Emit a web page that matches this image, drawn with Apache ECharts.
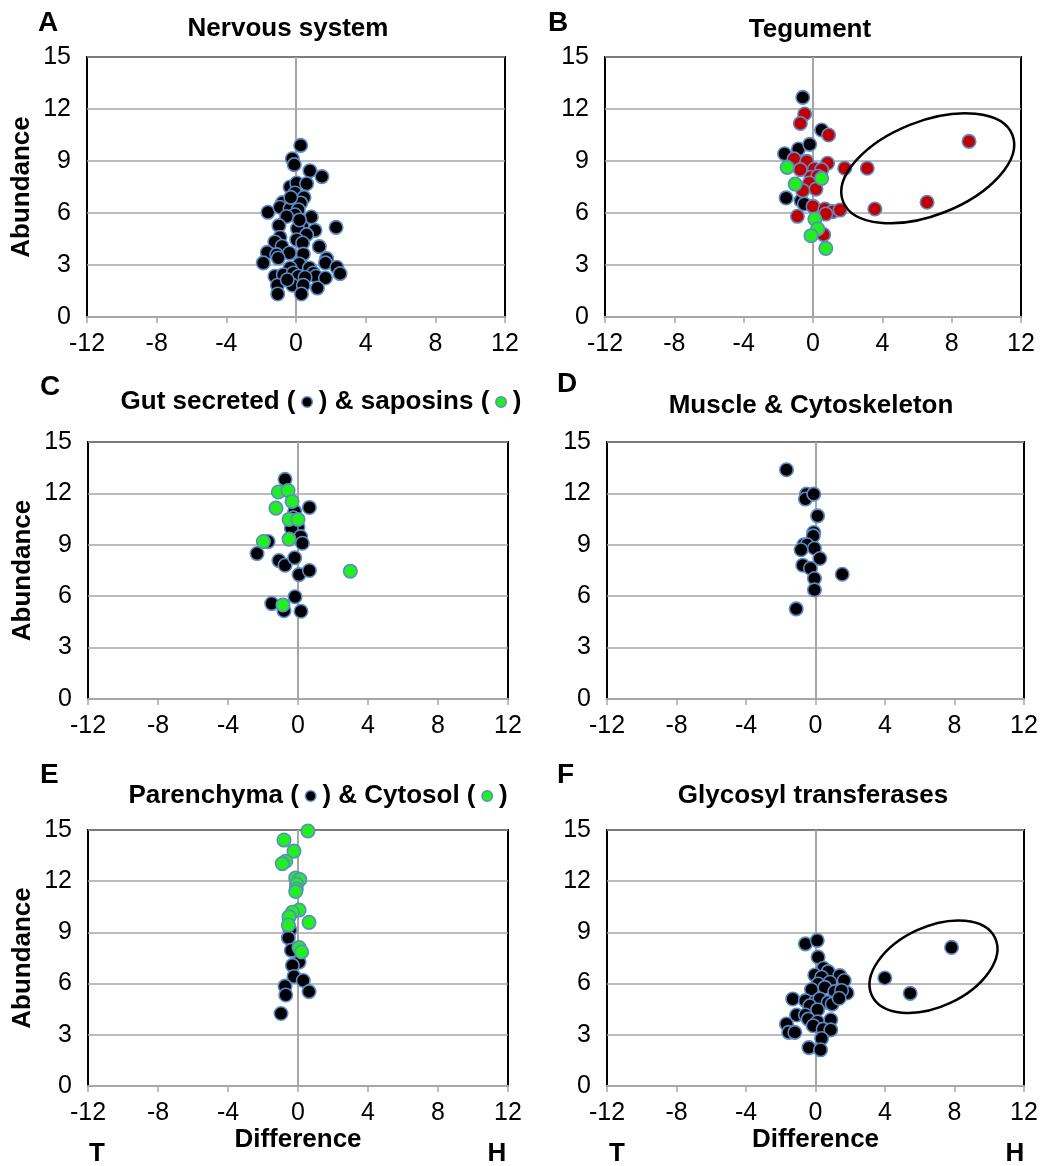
<!DOCTYPE html>
<html><head><meta charset="utf-8">
<script src="https://cdn.jsdelivr.net/npm/echarts@6/dist/echarts.min.js"></script>
<style>html,body{margin:0;padding:0;background:#fff}#c{width:1042px;height:1166px}</style>
</head><body><div id="c"></div>
<script>
// ---- data ----
const xTicks = [-12, -8, -4, 0, 4, 8, 12];
const yTicks = [0, 3, 6, 9, 12, 15];
const panelLetters = ['A', 'B', 'C', 'D', 'E', 'F'];
const panelTitles = ['Nervous system', 'Tegument', 'Gut secreted ( {b| } ) & saposins ( {g| } )',
  'Muscle & Cytoskeleton', 'Parenchyma ( {b| } ) & Cytosol ( {g| } )', 'Glycosyl transferases'];

const nervousSystem = [[0.27,9.9],[-0.21,9.13],[-0.1,8.79],[0.8,8.44],[1.49,8.1],[-0.34,7.5],[0.04,7.73],[0.61,7.69],
  [-0.06,7.15],[0.46,6.9],[-0.77,6.6],[-0.15,6.67],[0.27,6.58],[-1.61,6.04],[-0.92,6.33],[-0.34,6.25],[0.13,6.19],
  [-0.06,5.9],[-0.54,5.8],[0.88,5.77],[-0.98,5.27],[0.36,5.23],[1.09,5.0],[2.3,5.17],[0.08,5.1],[0.61,4.75],
  [-0.92,4.6],[-1.21,4.33],[0.04,4.46],[0.38,4.27],[-0.8,4.08],[1.34,4.06],[-1.65,3.73],[-1.11,3.6],[-0.38,3.69],
  [0.42,3.63],[-1.02,3.4],[-1.88,3.12],[0.19,3.06],[1.76,3.37],[1.69,3.12],[-0.34,2.83],[0.77,2.83],[2.34,2.87],
  [2.53,2.5],[-1.21,2.35],[-0.73,2.44],[-0.15,2.54],[0.13,2.35],[1.0,2.54],[1.15,2.35],[1.69,2.25],[0.52,2.29],
  [-1.07,1.83],[-0.19,1.83],[0.42,1.83],[1.23,1.67],[-1.05,1.33],[0.31,1.33],[-0.5,2.15],[-0.3,6.9],[0.2,5.6]];

const tegumentBlack = [[-0.59,12.67],[0.5,10.79],[-1.64,9.42],[-0.84,9.69],[-0.19,9.96],[-1.55,6.87],[-0.69,6.71],[-0.5,6.52]];
const tegumentRed = [[-0.48,11.71],[-0.73,11.17],[0.9,10.5],[-1.09,9.12],[-0.36,8.98],[0.84,8.87],[-0.73,8.5],[0.08,8.54],
  [0.5,8.5],[1.83,8.58],[3.13,8.58],[9.0,10.13],[-0.11,8.06],[0.27,8.12],[-0.21,7.73],[0.17,7.38],[-0.59,7.29],
  [0,6.38],[0.69,6.23],[1.13,6.08],[1.56,6.17],[0.74,5.94],[-0.9,5.81],[3.57,6.23],[6.58,6.62],[0.61,4.75]];
const tegumentGreen = [[-1.49,8.63],[0.5,8.0],[-1.03,7.67],[0.11,5.65],[0.27,5.08],[-0.11,4.69],[0.74,3.96]];

const gutSecreted = [[-0.74,12.82],[-0.19,10.95],[0.65,11.18],[-0.27,10.58],[0,10.03],[-0.38,9.97],[0.15,9.48],[0.25,9.09],
  [-1.71,9.19],[-2.34,8.49],[-1.09,8.08],[-0.74,7.81],[-0.19,8.24],[0.06,7.26],[0.65,7.5],[-0.17,5.97],[-1.5,5.57],
  [-0.8,5.15],[0.17,5.12]];
const saposins = [[-1.12,12.08],[-0.57,12.17],[-0.34,11.53],[-1.26,11.14],[-0.51,10.48],[0,10.48],[-1.98,9.19],
  [-0.51,9.33],[2.99,7.46],[-0.86,5.49]];

const muscleCytoskeleton = [[-1.67,13.38],[-0.52,11.96],[-0.58,11.67],[-0.1,11.96],[0.12,10.69],[-0.1,9.72],[-0.13,9.52],
  [-0.67,9.0],[-0.48,9.0],[-0.83,8.71],[-0.06,8.8],[0.25,8.2],[-0.73,7.81],[-0.29,7.63],[1.54,7.28],[-0.06,7.03],
  [-0.06,6.37],[-1.11,5.26]];

const parenchyma = [[-0.46,9.13],[-0.55,8.68],[-0.38,7.95],[0.06,7.26],[-0.32,7.07],[-0.23,6.42],[0.3,6.18],[-0.74,5.85],
  [0.63,5.53],[-0.7,5.33],[-0.97,4.25]];
const cytosol = [[0.57,14.94],[-0.8,14.41],[-0.23,13.76],[-0.7,13.17],[-0.9,13.03],[-0.13,12.19],[0.1,12.09],[-0.08,11.83],
  [-0.1,11.54],[-0.13,11.4],[0.06,10.31],[-0.32,10.18],[-0.51,9.92],[0.63,9.59],[-0.55,9.43],[0.06,8.11],[0.21,7.85]];

const glycosylTransferases = [[-0.58,8.33],[0.1,8.53],[0.15,7.55],[0.46,6.9],[0.73,6.7],[1.4,6.47],[-0.04,6.5],[0.35,6.37],
  [0.83,6.08],[1.65,6.18],[0.15,5.98],[-0.23,5.65],[0.54,5.78],[1.11,5.53],[1.82,5.45],[1.5,5.6],[-1.31,5.1],[-0.58,5.0],
  [0,4.94],[0.25,5.1],[0.73,4.9],[0.96,4.8],[1.36,5.14],[-0.33,4.7],[0.12,4.47],[-1.09,4.16],[-0.58,4.16],[-0.42,3.92],
  [0.12,3.76],[0.88,3.88],[-1.67,3.63],[-1.54,3.14],[-1.19,3.14],[-0.13,3.53],[0.44,3.33],[0.88,3.29],[0.35,2.78],
  [-0.38,2.25],[0.29,2.12],[3.99,6.33],[5.45,5.43],[7.83,8.12]];

// ellipse annotation centres (data coords)
const ellipseB = [6.62, 8.58];
const ellipseF = [6.79, 6.99];

// ---- styling ----
const FONT = 'Liberation Sans, Arial, sans-serif';
const BLUE_EDGE = '#5b8bc8';
const grids = [
  {left: 87, top: 57, width: 418, height: 260},
  {left: 605, top: 57, width: 416, height: 260},
  {left: 88, top: 442, width: 420, height: 257},
  {left: 607, top: 442, width: 417, height: 257},
  {left: 88, top: 830, width: 420, height: 256},
  {left: 607, top: 830, width: 417, height: 256}
];

const chart = echarts.init(document.getElementById('c'));

const xAxes = grids.map((g, i) => ({
  gridIndex: i, type: 'value', min: xTicks[0], max: xTicks[xTicks.length - 1], interval: 4,
  axisLine: {show: true, onZero: false, lineStyle: {color: '#a6a6a6', width: 2}},
  axisTick: {show: true, inside: false, length: 6, lineStyle: {color: '#a6a6a6', width: 1.5}},
  splitLine: {show: false},
  axisLabel: {color: '#000', fontFamily: FONT, fontSize: 25, margin: 15},
  name: i >= 4 ? 'Difference' : '', nameLocation: 'middle', nameGap: 39,
  nameTextStyle: {color: '#000', fontFamily: FONT, fontSize: 26, fontWeight: 'bold'}
}));
const yAxes = grids.map((g, i) => ({
  gridIndex: i, type: 'value', min: yTicks[0], max: yTicks[yTicks.length - 1], interval: 3,
  axisLine: {show: false}, axisTick: {show: false},
  splitLine: {show: true, lineStyle: {color: '#a6a6a6', width: 1.5}},
  axisLabel: {color: '#000', fontFamily: FONT, fontSize: 25, margin: 16},
  name: i % 2 === 0 ? 'Abundance' : '', nameLocation: 'middle', nameGap: 52, nameRotate: 90,
  nameTextStyle: {color: '#000', fontFamily: FONT, fontSize: 26, fontWeight: 'bold'}
}));

function scatter(idx, data, color, withZeroLine) {
  const s = {
    type: 'scatter', xAxisIndex: idx, yAxisIndex: idx, data: data, symbolSize: 13.5,
    itemStyle: {color: color, borderColor: BLUE_EDGE, borderWidth: 1.6, opacity: 1},
    silent: true, z: 3
  };
  if (withZeroLine) {
    s.markLine = {silent: true, symbol: 'none', label: {show: false},
      lineStyle: {color: '#a6a6a6', width: 2, type: 'solid'}, data: [{xAxis: 0}], z: 1};
  }
  return s;
}
function ellipse(idx, center, rx, ry, deg) {
  return {
    type: 'custom', xAxisIndex: idx, yAxisIndex: idx, data: [center], silent: true, z: 4,
    renderItem: (params, api) => {
      const p = api.coord([api.value(0), api.value(1)]);
      return {type: 'ellipse', x: p[0], y: p[1], rotation: deg * Math.PI / 180,
        shape: {cx: 0, cy: 0, rx: rx, ry: ry},
        style: {fill: 'none', stroke: '#000', lineWidth: 2.5}};
    }
  };
}

const RED = '#c00000', GREEN = '#22ee22', BLACK = '#000000';
const series = [
  scatter(0, nervousSystem, BLACK, true),
  scatter(1, tegumentBlack, BLACK, true),
  scatter(1, tegumentRed, RED, false),
  scatter(1, tegumentGreen, GREEN, false),
  ellipse(1, ellipseB, 91, 47, 21.5),
  scatter(2, gutSecreted, BLACK, true),
  scatter(2, saposins, GREEN, false),
  scatter(3, muscleCytoskeleton, BLACK, true),
  scatter(4, parenchyma, BLACK, true),
  scatter(4, cytosol, GREEN, false),
  scatter(5, glycosylTransferases, BLACK, true),
  ellipse(5, ellipseF, 68, 40, 25)
];

// text positions
const letterPos = [[38, 23], [548, 23], [40, 387], [557, 384], [40, 775], [557, 775]];
const titlePos = [[288, 29], [810, 30], [321, 402], [811, 406], [318, 796], [813, 796]];
const dotStyle = c => ({width: 9, height: 9, lineHeight: 9, fontSize: 9, backgroundColor: c,
  borderColor: BLUE_EDGE, borderWidth: 1.5, borderRadius: 5});
const richDots = {b: dotStyle('#000'), g: dotStyle(GREEN)};
const graphic = [];
panelLetters.forEach((l, i) => graphic.push({type: 'text', left: letterPos[i][0], top: letterPos[i][1] - 14,
  style: {text: l, font: 'bold 28px ' + FONT, fill: '#000'}}));
panelTitles.forEach((t, i) => graphic.push({type: 'text', x: titlePos[i][0], y: titlePos[i][1],
  style: {text: t, font: 'bold 26px ' + FONT, fill: '#000', align: 'center', verticalAlign: 'middle', rich: richDots}}));
[[97, 1154, 'T'], [497, 1154, 'H'], [617, 1154, 'T'], [1015, 1154, 'H']].forEach(p => graphic.push({
  type: 'text', x: p[0], y: p[1], style: {text: p[2], font: 'bold 26px ' + FONT, fill: '#000', align: 'center', verticalAlign: 'middle'}}));

chart.setOption({
  backgroundColor: '#fff',
  animation: false,
  grid: grids.map(g => Object.assign({show: true, borderColor: '#000', borderWidth: 2, backgroundColor: 'transparent'}, g)),
  xAxis: xAxes, yAxis: yAxes, series: series, graphic: graphic
});
</script></body></html>
